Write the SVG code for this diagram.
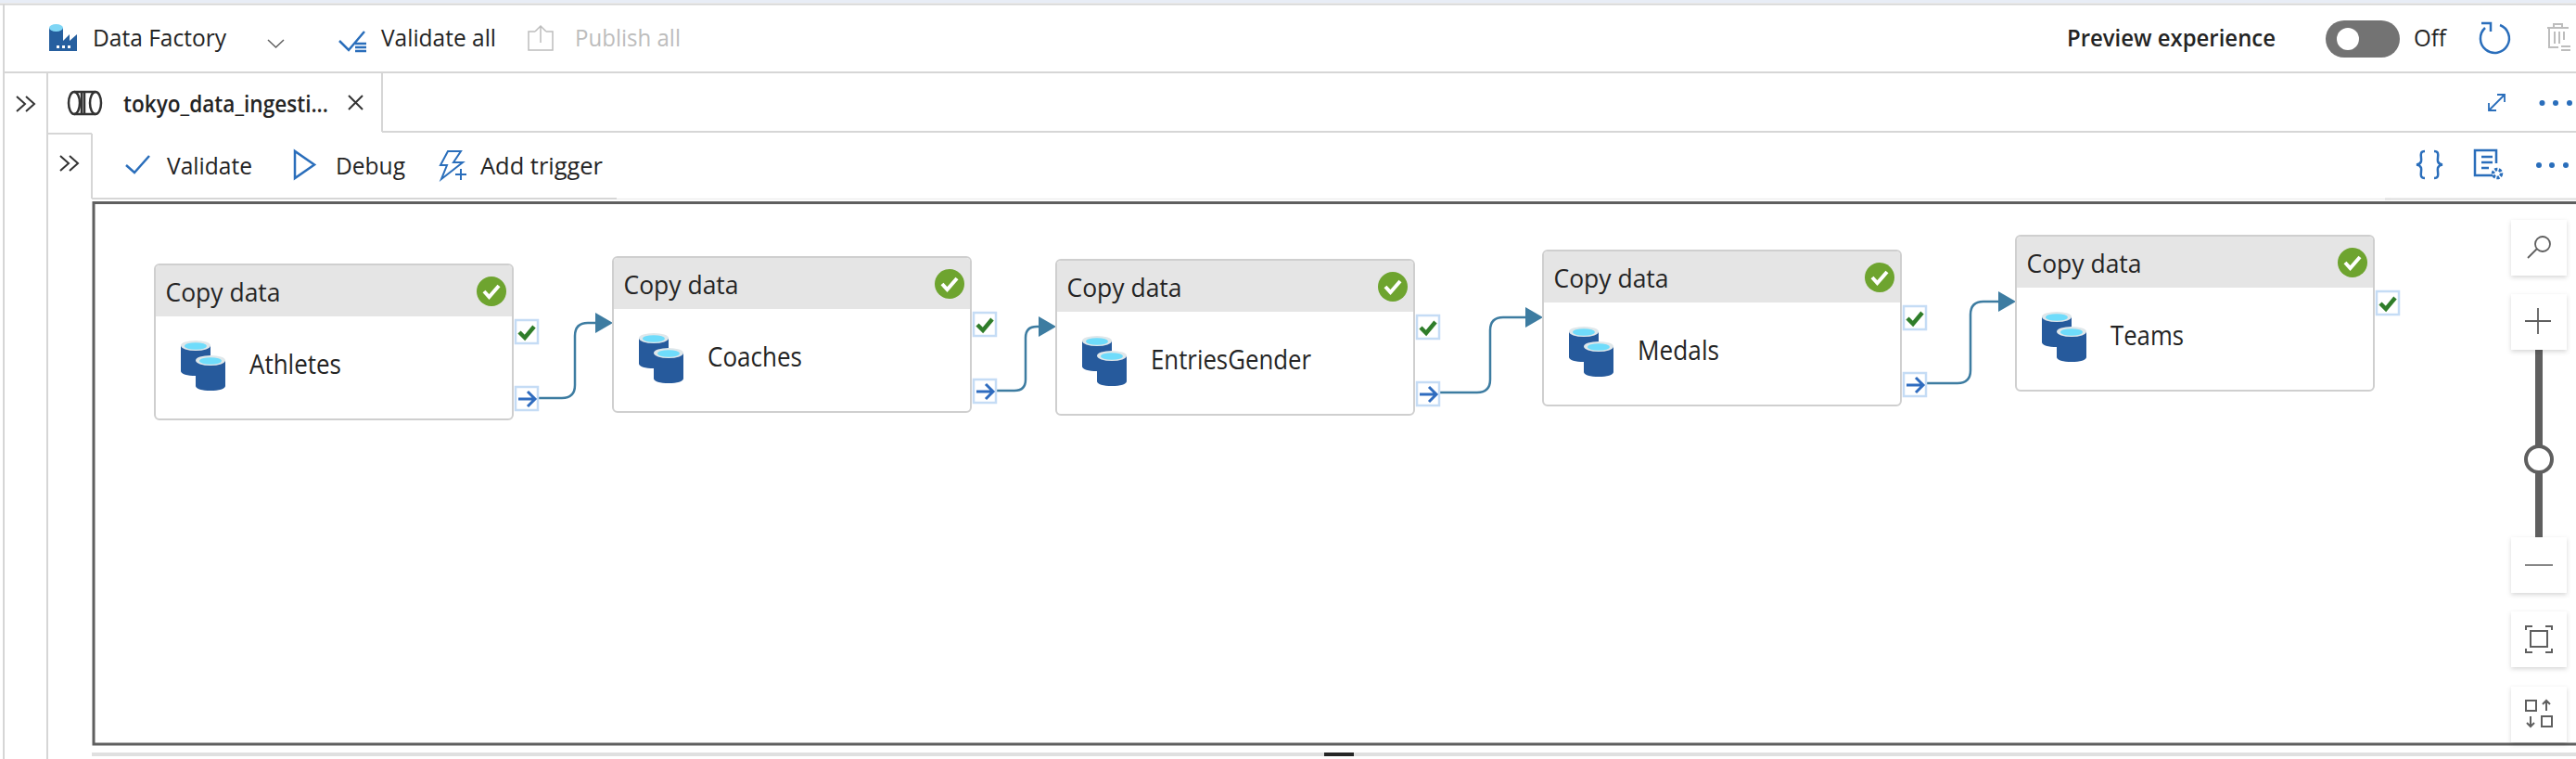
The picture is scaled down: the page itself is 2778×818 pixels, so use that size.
<svg xmlns="http://www.w3.org/2000/svg" width="2778" height="818" viewBox="0 0 2778 818">
<style>
text{font-family:"Open Sans","Noto Sans","Liberation Sans",sans-serif;fill:#242424}
.t{font-size:26px}
.sb{font-weight:600}
.off{fill:#bdbdbd}
.card{fill:#fff;stroke:#cfcfcf;stroke-width:2}
.hdr{fill:#e5e5e5}
.head{font-size:28px}
.name{font-size:29px}
.port{fill:#fff;stroke:#c5dcf5;stroke-width:2.500}
.pc{fill:none;stroke:#2f7d2a;stroke-width:4.500}
.pa{fill:none;stroke:#2f6cbf;stroke-width:3}
.ic{fill:none;stroke:#2a6ebb;stroke-width:2.500}
.ig{fill:none;stroke:#5f5f5f;stroke-width:2.500}
.is{fill:none;stroke:#bdbdbd;stroke-width:2.500}
.rule{fill:none;stroke:#d6d6d6;stroke-width:2}
.conn{fill:none;stroke:#3d7ca1;stroke-width:2.500;marker-end:url(#arr)}
.btn{fill:#fff;filter:url(#sh)}
</style>
<defs>
<marker id="arr" markerUnits="userSpaceOnUse" markerWidth="20" markerHeight="22" refX="0" refY="11" orient="auto"><path d="M0 0L19 11L0 22Z" fill="#3d7ca1"/></marker>
<filter id="sh" x="-20%" y="-20%" width="140%" height="150%"><feDropShadow dx="0" dy="2" stdDeviation="2.500" flood-color="#000" flood-opacity=".16"/></filter>
<g id="cyl"><path d="M0 5.500V33c0 3 7 5 16 5s16-2 16-5V5.500z" fill="#265a9c"/><ellipse cx="16" cy="5.500" rx="16" ry="5.500" fill="#dfe7ea"/><ellipse cx="16" cy="6" rx="12" ry="3.800" fill="#6fdcfb"/></g>
<g id="db"><use href="#cyl" x="28" y="82"/><use href="#cyl" x="44" y="98"/></g>
<g id="status"><circle r="16" fill="#6ea42f"/><path d="M-8 0L-2.500 6L8-6" fill="none" stroke="#fff" stroke-width="4"/></g>
<g id="pcheck"><rect width="24" height="25" class="port"/><path d="M4 13L10 19L20 7" class="pc"/></g>
<g id="parrow"><rect width="24" height="25" class="port"/><path d="M3 13H21M13 5L21 13L13 21" class="pa"/></g>
</defs>
<rect width="2778" height="818" fill="#fff"/>
<g id="chrome">
<rect width="2778" height="3" fill="#e8edf6"/>
<path class="rule" d="M0 4.500H2778M4 4V818M4 78H2778M51 79V818M412 79V142M412 142H2778M51 144H99M99 144V214M99 214H665"/>
<path d="M665 214.500H2578" stroke="#eeeeee" stroke-width="1.500" fill="none"/>
<path d="M2572 214.500H2778" stroke="#dedede" stroke-width="2" fill="none"/>
<path d="M2778 218.500H101V802H2778" fill="none" stroke="#5f5f5f" stroke-width="3"/>
<rect x="99" y="811" width="2679" height="4" fill="#e0e0e0"/>
<rect x="1428" y="811" width="32" height="4" fill="#262626"/>
</g>
<g id="toolbar">
<path d="M53 30H68V44L75 37V44L83 37V55H53Z" fill="#265f9f"/><ellipse cx="60.500" cy="30" rx="7.500" ry="4" fill="#7fd6f5"/>
<path d="M61 49h3v3h-3zM67 49h3v3h-3zM73 49h3v3h-3z" fill="#fff"/>
<text class="t" x="100" y="50" textLength="144" lengthAdjust="spacingAndGlyphs">Data Factory</text>
<path d="M289 43L297.500 51L306 43" class="ig" style="stroke-width:1.500"/>
<path d="M366 44L376 54L393 34" class="ic"/><path d="M383 47H395M383 51H395M383 55H395" class="ic"/>
<text class="t" x="411" y="50" textLength="124" lengthAdjust="spacingAndGlyphs">Validate all</text>
<path d="M577 34H570V54H596V34H589M583 46V28M577 34L583 28L589 34" class="is" style="stroke-width:1.500"/>
<text class="t off" x="620" y="50" textLength="114" lengthAdjust="spacingAndGlyphs">Publish all</text>
<text class="t sb" x="2229" y="50" textLength="225" lengthAdjust="spacingAndGlyphs">Preview experience</text>
<rect x="2508" y="22" width="80" height="40" rx="20" fill="#737373"/><ellipse cx="2532" cy="42" rx="12" ry="12" fill="#fff"/>
<text class="t" x="2603" y="50" textLength="35" lengthAdjust="spacingAndGlyphs">Off</text>
<path d="M2680 30A15.500 15.500 0 1 0 2696 27M2676 25H2686V34" class="ic"/>
<path d="M2747 30H2770M2754 30V26H2763V30M2749 30V51H2759M2755 34V47M2760 34V47M2765 34V43M2762 50H2772M2762 54H2772" class="is" style="stroke-width:2"/>
<path d="M18 104L27 112L18 120M28 104L37 112L28 120" class="ig" style="stroke:#333;stroke-width:2"/>
<g><ellipse cx="80" cy="111" rx="6" ry="12" fill="none" stroke="#333" stroke-width="2.500"/><ellipse cx="103" cy="111" rx="6" ry="12" fill="none" stroke="#333" stroke-width="2.500"/><path d="M80 99H103M80 123H103M91 99V123M88 99V123" fill="none" stroke="#333" stroke-width="2.500"/></g>
<text class="t sb" x="133" y="121" textLength="221" lengthAdjust="spacingAndGlyphs">tokyo_data_ingesti...</text>
<path d="M376 103L391 118M391 103L376 118" class="ig" style="stroke:#333;stroke-width:2"/>
<path d="M2684 119L2701 102M2684 111V119H2692M2693 102H2701V110" class="ic" style="stroke-width:1.800"/>
<circle cx="2741.500" cy="111" r="3" fill="#2a6ebb"/><circle cx="2756" cy="111" r="3" fill="#2a6ebb"/><circle cx="2771" cy="111" r="3" fill="#2a6ebb"/>
<path d="M65 168L74 176L65 184M75 168L84 176L75 184" class="ig" style="stroke:#333;stroke-width:2"/>
<path d="M136 178L145 186L161 168" class="ic"/>
<text class="t" x="180" y="188" textLength="92" lengthAdjust="spacingAndGlyphs">Validate</text>
<path d="M318 163V192L339 177.500Z" class="ic"/>
<text class="t" x="362" y="188" textLength="75" lengthAdjust="spacingAndGlyphs">Debug</text>
<path d="M483 163H497L489 175H499L476 193L482 178H475Z" class="ic" style="stroke-width:2"/><path d="M491 188H503M497 182V194" class="ic" style="stroke-width:2"/>
<text class="t" x="518" y="188" textLength="132" lengthAdjust="spacingAndGlyphs">Add trigger</text>
<path d="M2615 163C2608 163 2612 170 2611 174C2610 177 2606 177.500 2606 177.500C2606 177.500 2610 178 2611 181C2612 185 2608 192 2615 192M2625 163C2632 163 2628 170 2629 174C2630 177 2634 177.500 2634 177.500C2634 177.500 2630 178 2629 181C2628 185 2632 192 2625 192" class="ic"/>
<path d="M2688 189H2669V162H2692V176M2676 169H2688M2676 175H2688M2676 181H2684" class="ic"/><circle cx="2693" cy="187" r="4.500" fill="none" stroke="#2a6ebb" stroke-width="3.500" stroke-dasharray="3 1.500"/>
<circle cx="2738" cy="178" r="3" fill="#2a6ebb"/><circle cx="2752" cy="178" r="3" fill="#2a6ebb"/><circle cx="2767" cy="178" r="3" fill="#2a6ebb"/>
</g>
<g id="connectors">
<path class="conn" d="M580 429H606Q620 429 620 415V362Q620 348 634 348H642"/>
<path class="conn" d="M1074 421H1094Q1106 421 1106 409V364Q1106 352 1118 352H1120"/>
<path class="conn" d="M1552 423H1593Q1607 423 1607 409V356Q1607 342 1621 342H1645"/>
<path class="conn" d="M2077 413H2111Q2125 413 2125 399V339Q2125 325 2139 325H2155"/>
</g>
<g id="node-athletes" transform="translate(167 285)">
<rect class="card" width="386" height="167" rx="5"/><path class="hdr" d="M1 56V5Q1 1 5 1H381Q385 1 385 5V56Z"/>
<text class="head" x="11.500" y="40" textLength="124" lengthAdjust="spacingAndGlyphs">Copy data</text><use href="#status" x="363" y="29"/><use href="#db"/>
<text class="name" x="102" y="118" textLength="99" lengthAdjust="spacingAndGlyphs">Athletes</text>
<use href="#pcheck" x="389" y="60"/><use href="#parrow" x="389" y="132"/>
</g>
<g id="node-coaches" transform="translate(661 277)">
<rect class="card" width="386" height="167" rx="5"/><path class="hdr" d="M1 56V5Q1 1 5 1H381Q385 1 385 5V56Z"/>
<text class="head" x="11.500" y="40" textLength="124" lengthAdjust="spacingAndGlyphs">Copy data</text><use href="#status" x="363" y="29"/><use href="#db"/>
<text class="name" x="102" y="118" textLength="102" lengthAdjust="spacingAndGlyphs">Coaches</text>
<use href="#pcheck" x="389" y="60"/><use href="#parrow" x="389" y="132"/>
</g>
<g id="node-entriesgender" transform="translate(1139 280)">
<rect class="card" width="386" height="167" rx="5"/><path class="hdr" d="M1 56V5Q1 1 5 1H381Q385 1 385 5V56Z"/>
<text class="head" x="11.500" y="40" textLength="124" lengthAdjust="spacingAndGlyphs">Copy data</text><use href="#status" x="363" y="29"/><use href="#db"/>
<text class="name" x="102" y="118" textLength="173" lengthAdjust="spacingAndGlyphs">EntriesGender</text>
<use href="#pcheck" x="389" y="60"/><use href="#parrow" x="389" y="132"/>
</g>
<g id="node-medals" transform="translate(1664 270)">
<rect class="card" width="386" height="167" rx="5"/><path class="hdr" d="M1 56V5Q1 1 5 1H381Q385 1 385 5V56Z"/>
<text class="head" x="11.500" y="40" textLength="124" lengthAdjust="spacingAndGlyphs">Copy data</text><use href="#status" x="363" y="29"/><use href="#db"/>
<text class="name" x="102" y="118" textLength="88" lengthAdjust="spacingAndGlyphs">Medals</text>
<use href="#pcheck" x="389" y="60"/><use href="#parrow" x="389" y="132"/>
</g>
<g id="node-teams" transform="translate(2174 254)">
<rect class="card" width="386" height="167" rx="5"/><path class="hdr" d="M1 56V5Q1 1 5 1H381Q385 1 385 5V56Z"/>
<text class="head" x="11.500" y="40" textLength="124" lengthAdjust="spacingAndGlyphs">Copy data</text><use href="#status" x="363" y="29"/><use href="#db"/>
<text class="name" x="102" y="118" textLength="79" lengthAdjust="spacingAndGlyphs">Teams</text>
<use href="#pcheck" x="389" y="60"/>
</g>
<g id="zoom-controls">
<rect x="2734" y="377" width="8" height="202" fill="#5f5f5f"/>
<circle cx="2738" cy="495" r="14" fill="#fff" stroke="#5f5f5f" stroke-width="4"/>
<rect class="btn" x="2708" y="237" width="60" height="60"/><rect class="btn" x="2708" y="317" width="60" height="60"/><rect class="btn" x="2708" y="579" width="60" height="60"/><rect class="btn" x="2708" y="659" width="60" height="60"/><rect class="btn" x="2708" y="740" width="60" height="60"/>
<path d="M2726 278L2736 268" class="ig" style="stroke-width:1.800"/><circle cx="2742" cy="263" r="8" class="ig" style="stroke-width:1.800"/>
<path d="M2723 346H2751M2737 332V360" class="ig" style="stroke-width:1.800"/>
<path d="M2723 609H2753" class="ig" style="stroke-width:1.500"/>
<rect x="2729" y="680" width="18" height="17" class="ig" style="stroke-width:2"/><path d="M2724 679V675H2731M2745 675H2752V679M2752 699V703H2745M2731 703H2724V699" class="ig" style="stroke-width:2"/>
<rect x="2724" y="755" width="11" height="11" class="ig" style="stroke-width:2"/><rect x="2741" y="772" width="11" height="11" class="ig" style="stroke-width:2"/>
<path d="M2746 766V755M2742 759L2746 755L2750 759M2729 772V783M2725 779L2729 783L2733 779" class="ig" style="stroke-width:2"/>
</g>
</svg>
